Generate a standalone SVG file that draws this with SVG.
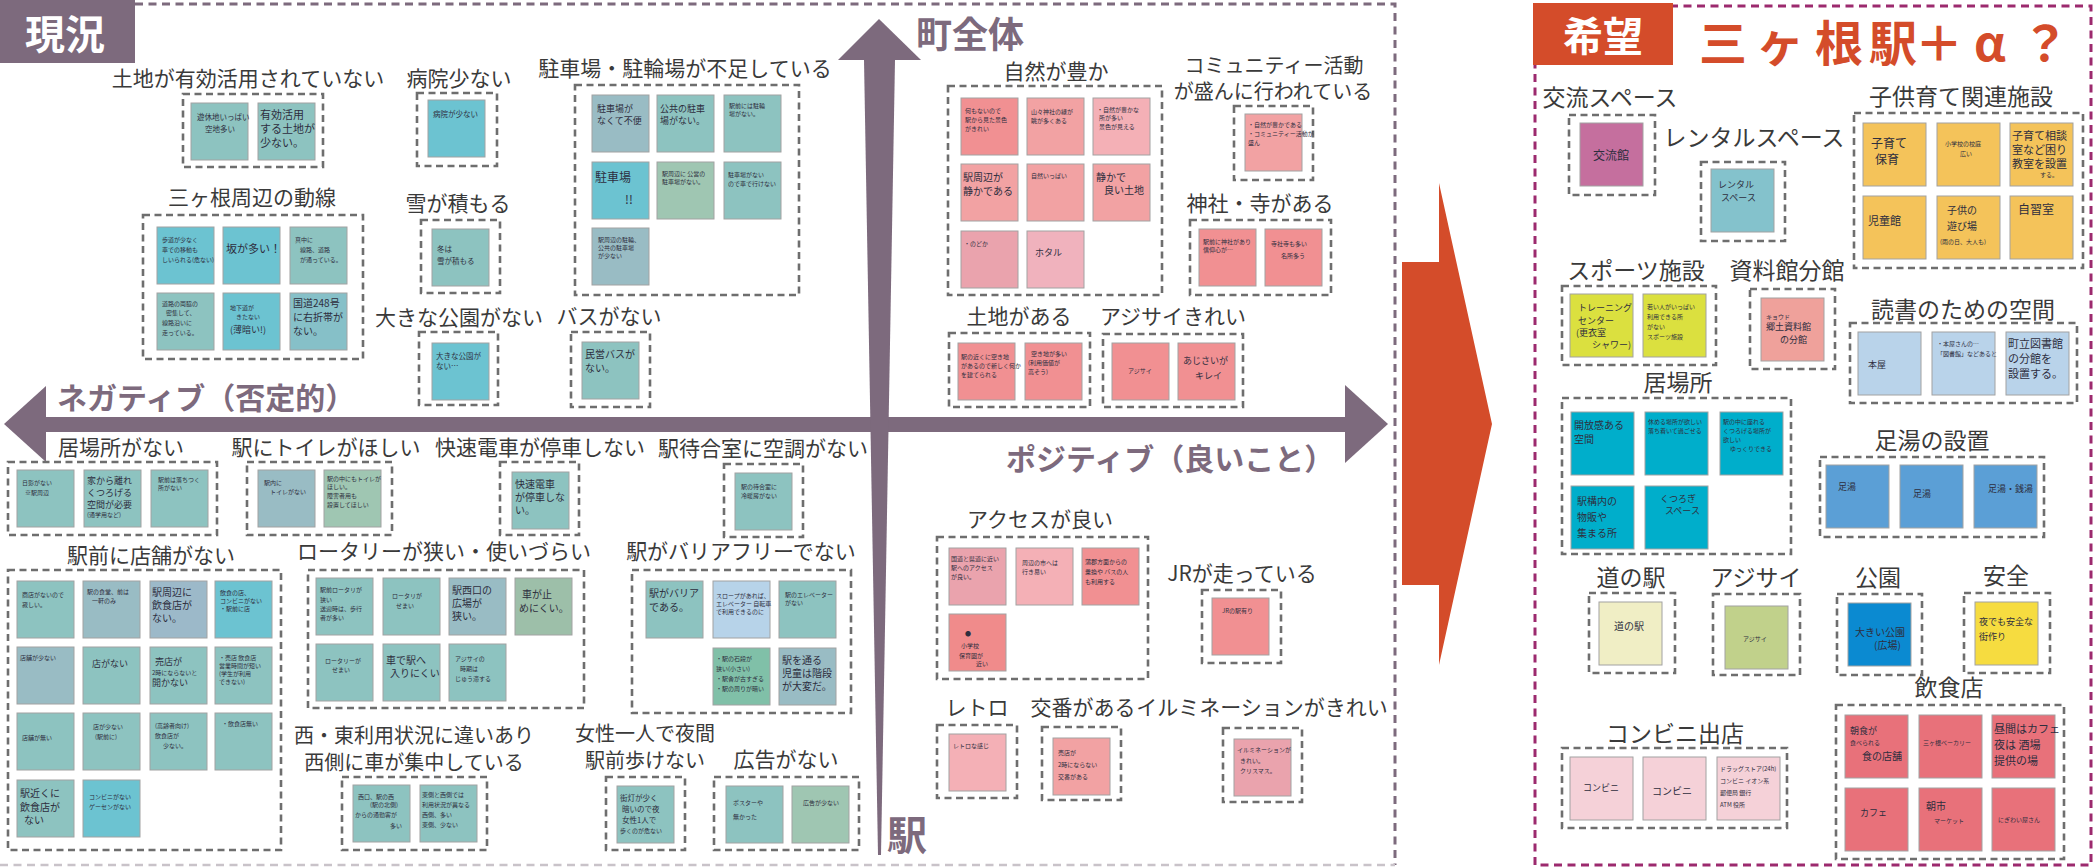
<svg xmlns="http://www.w3.org/2000/svg" width="2096" height="867" viewBox="0 0 2096 867">
<style>
.lb{font-family:"Noto Sans CJK JP","Noto Sans",sans-serif;font-size:21px;fill:#3a3a3a;text-anchor:middle}
.lr{font-size:23px}
.l2{font-size:20px}
.bx{fill:none;stroke:#6e6e6e;stroke-width:2.6;stroke-dasharray:7 4.5}
.n{stroke:#a2a2a2;stroke-width:1}
.hw{font-family:"Noto Sans CJK JP",sans-serif;font-size:7.5px;fill:#2e2e3e}
.h9{font-size:9px}.h10{font-size:10px}.h11{font-size:11px}.h12{font-size:12px}.h6{font-size:6px}
.ax{fill:#7d6a7d}
.tl{fill:#8dc3c0}.cy{fill:#6cc3d1}.bl{fill:#99bcc4}.gr{fill:#9fc6b2}.pk{fill:#f2a2a3}.pk2{fill:#eaa3ad}.pk3{fill:#f4b0b6}.rd{fill:#f19092}.lb2{fill:#b7d3e9}
.or{fill:#f4c35a}.mg{fill:#c56f9e}.yg{fill:#dbe03f}.sl{fill:#efa19b}.bb{fill:#b9d3ea}.cn{fill:#00aecb}.sb{fill:#5b9fd6}.cr{fill:#f0eec5}.ol{fill:#c1d18b}.db{fill:#0b8ad1}.yl{fill:#f6dc40}.rs{fill:#e8717a}.lp{fill:#f5d1d8}.rc{fill:#84c2cc}
</style>
<rect width="2096" height="867" fill="#ffffff"/>

<!-- left panel frame -->
<g id="panel-current">
<path d="M135 4 H1395 V865" fill="none" stroke="#7d6a7d" stroke-width="3" stroke-dasharray="8 5.5"/>
<path d="M0 865 H1395" fill="none" stroke="#c9c3c9" stroke-width="2.5" stroke-dasharray="8 5.5"/>
<rect x="0" y="0" width="135" height="63" fill="#7d6a7d"/>
<text x="25" y="49" font-family="Noto Sans CJK JP,sans-serif" font-size="40" font-weight="bold" fill="#ffffff">現況</text>
</g>

<!-- axes -->
<g id="connectors">
<rect class="ax" x="44" y="417" width="1303" height="15"/>
<polygon class="ax" points="4,424 46,386 46,462"/>
<polygon class="ax" points="1345,385 1388,424 1345,463"/>
<polygon class="ax" points="838,60 879,19 921,60"/>
<polygon class="ax" points="864,60 895,60 881,855 878,855"/>
<polygon fill="#d44c2a" points="1402,262 1439,262 1439,183 1492,424 1439,665 1439,585 1402,585"/>
</g>
<g id="axis-labels" font-family="Noto Sans CJK JP,sans-serif" font-weight="bold" fill="#7d6a7d">
<text x="916" y="48" font-size="36">町全体</text>
<text x="57" y="409" font-size="30">ネガティブ（否定的）</text>
<text x="1006" y="470" font-size="30">ポジティブ（良いこと）</text>
<text x="887" y="850" font-size="40">駅</text>
</g>

<!-- upper-left quadrant -->
<g id="g-land-unused">
<text class="lb" x="248" y="86">土地が有効活用されていない</text>
<rect class="bx" x="183" y="94" width="140" height="73"/>
<rect class="n tl" x="191" y="103" width="57" height="57"/><text class="hw" x="197" y="120">遊休地いっぱい<tspan x="205" dy="12">空地多い</tspan></text>
<rect class="n tl" x="258" y="103" width="57" height="57"/><text class="hw h11" x="260" y="119">有効活用<tspan x="260" dy="14">する土地が</tspan><tspan x="260" dy="14">少ない。</tspan></text>
</g>
<g id="g-hospital">
<text class="lb" x="459" y="86">病院少ない</text>
<rect class="bx" x="417" y="93" width="80" height="73"/>
<rect class="n cy" x="428" y="100" width="57" height="57"/><text class="hw" x="433" y="117">病院が少ない</text>
</g>
<g id="g-movement">
<text class="lb" x="252" y="205">三ヶ根周辺の動線</text>
<rect class="bx" x="143" y="215" width="220" height="144"/>
<rect class="n cy" x="157" y="227" width="57" height="57"/><text class="hw h6" x="162" y="242">歩道が少なく<tspan x="162" dy="10">車での移動も</tspan><tspan x="162" dy="10">しいられる(危ない)</tspan></text>
<rect class="n cy" x="223" y="227" width="57" height="57"/><text class="hw h11" x="226" y="253">坂が多い！</text>
<rect class="n tl" x="290" y="227" width="57" height="57"/><text class="hw h6" x="295" y="242">真中に<tspan x="300" dy="10">線路、道路</tspan><tspan x="300" dy="10">が通っている。</tspan></text>
<rect class="n tl" x="157" y="293" width="57" height="57"/><text class="hw h6" x="162" y="306">道路の両脇の<tspan x="166" dy="9">密集して、</tspan><tspan x="162" dy="10">線路沿いに</tspan><tspan x="162" dy="10">走っている。</tspan></text>
<rect class="n cy" x="223" y="293" width="57" height="57"/><text class="hw h6" x="230" y="310">地下道が<tspan x="236" dy="9">きたない</tspan><tspan x="230" class="h9" dy="14">(薄暗い!)</tspan></text>
<rect class="n" fill="#86c0c8" x="290" y="293" width="57" height="57"/><text class="hw h10" x="293" y="307">国道248号<tspan x="293" dy="14">に右折帯が</tspan><tspan x="293" dy="14">ない。</tspan></text>
</g>
<g id="g-snow">
<text class="lb" x="458" y="211">雪が積もる</text>
<rect class="bx" x="421" y="220" width="79" height="73"/>
<rect class="n tl" x="432" y="229" width="57" height="57"/><text class="hw" x="437" y="252" fill="#6a2a2a">冬は<tspan x="437" dy="12">雪が積もる</tspan></text>
</g>
<g id="g-park">
<text class="lb" x="459" y="325">大きな公園がない</text>
<rect class="bx" x="419" y="332" width="79" height="73"/>
<rect class="n cy" x="432" y="343" width="57" height="57"/><text class="hw" x="436" y="359">大きな公園が<tspan x="436" dy="10">ない…</tspan></text>
</g>
<g id="g-bus">
<text class="lb" x="609" y="324">バスがない</text>
<rect class="bx" x="571" y="332" width="79" height="75"/>
<rect class="n tl" x="582" y="342" width="57" height="57"/><text class="hw h10" x="585" y="358">民営バスが<tspan x="585" dy="14">ない。</tspan></text>
</g>
<g id="g-parking">
<text class="lb" x="685" y="76">駐車場・駐輪場が不足している</text>
<rect class="bx" x="575" y="85" width="224" height="210"/>
<rect class="n bl" x="592" y="95" width="57" height="57"/><text class="hw h9" x="597" y="112">駐車場が<tspan x="597" dy="12">なくて不便</tspan></text>
<rect class="n tl" x="657" y="95" width="57" height="57"/><text class="hw h9" x="660" y="112">公共の駐車<tspan x="660" dy="12">場がない。</tspan></text>
<rect class="n tl" x="724" y="95" width="57" height="57"/><text class="hw h6" x="729" y="108">駅前には駐輪<tspan x="729" dy="8">場がない。</tspan></text>
<rect class="n cy" x="592" y="162" width="57" height="57"/><text class="hw h12" x="595" y="182">駐車場<tspan x="625" dy="22">!!</tspan></text>
<rect class="n gr" x="657" y="162" width="57" height="57"/><text class="hw h6" x="662" y="176">駅周辺に 公営の<tspan x="662" dy="8">駐車場がない。</tspan></text>
<rect class="n tl" x="724" y="162" width="57" height="57"/><text class="hw h6" x="728" y="177">駐車場がない<tspan x="728" dy="9">ので車で行けない</tspan></text>
<rect class="n bl" x="592" y="228" width="57" height="57"/><text class="hw h6" x="598" y="242">駅周辺の駐輪、<tspan x="598" dy="8">公共の駐車場</tspan><tspan x="598" dy="8">が少ない</tspan></text>
</g>

<!-- upper-right quadrant -->
<g id="g-nature">
<text class="lb" x="1056" y="79">自然が豊か</text>
<rect class="bx" x="948" y="86" width="214" height="209"/>
<rect class="n rd" x="961" y="98" width="57" height="57"/><text class="hw h6" x="965" y="113">何もないので<tspan x="965" dy="9">駅から見た景色</tspan><tspan x="965" dy="9">がきれい</tspan></text>
<rect class="n pk" x="1027" y="98" width="57" height="57"/><text class="hw h6" x="1031" y="114">山々神社の緑が<tspan x="1031" dy="9">眺が多くある</tspan></text>
<rect class="n pk3" x="1093" y="98" width="57" height="57"/><text class="hw h6" x="1097" y="112" fill="#8a5a5a">・自然が豊かな<tspan x="1099" dy="8">所が多い</tspan><tspan x="1099" dy="9">景色が見える</tspan></text>
<rect class="n pk" x="961" y="164" width="57" height="57"/><text class="hw h10" x="963" y="181">駅周辺が<tspan x="963" dy="14">静かである</tspan></text>
<rect class="n pk" x="1027" y="164" width="57" height="57"/><text class="hw h6" x="1031" y="178">自然いっぱい</text>
<rect class="n pk" x="1093" y="164" width="57" height="57"/><text class="hw h10" x="1096" y="181">静かで<tspan x="1104" dy="13">良い土地</tspan></text>
<rect class="n pk2" x="961" y="231" width="57" height="57"/><text class="hw h6" x="964" y="246">・のどか</text>
<rect class="n" fill="#f0b2bd" x="1027" y="231" width="57" height="57"/><text class="hw h9" x="1035" y="256" fill="#8a6a6a">ホタル</text>
</g>
<g id="g-community">
<text class="lb l2" x="1274" y="73">コミュニティー活動</text>
<text class="lb l2" x="1273" y="99">が盛んに行われている</text>
<rect class="bx" x="1234" y="106" width="79" height="74"/>
<rect class="n pk" x="1245" y="114" width="57" height="57"/><text class="hw h6" x="1248" y="127">・自然が豊かである<tspan x="1248" dy="9">・コミュニティー活動が</tspan><tspan x="1248" dy="9">盛ん</tspan></text>
</g>
<g id="g-shrine">
<text class="lb" x="1260" y="211">神社・寺がある</text>
<rect class="bx" x="1190" y="220" width="141" height="75"/>
<rect class="n rd" x="1199" y="229" width="57" height="57"/><text class="hw h6" x="1203" y="244">駅前に神社があり<tspan x="1203" dy="8">信仰心が…</tspan></text>
<rect class="n rd" x="1265" y="229" width="57" height="57"/><text class="hw h6" x="1271" y="246" fill="#8a3a3a">寺社寺も多い<tspan x="1281" dy="12">名所多う</tspan></text>
</g>
<g id="g-land">
<text class="lb" x="1019" y="324">土地がある</text>
<rect class="bx" x="949" y="333" width="141" height="74"/>
<rect class="n rd" x="958" y="343" width="57" height="57"/><text class="hw h6" x="961" y="359">駅の近くに空き地<tspan x="961" dy="9">があるので新しく何か</tspan><tspan x="961" dy="9">を建てられる</tspan></text>
<rect class="n rd" x="1025" y="343" width="57" height="57"/><text class="hw h6" x="1031" y="356">空き地が多い<tspan x="1028" dy="9">(利用価値が</tspan><tspan x="1028" dy="9">高そう)</tspan></text>
</g>
<g id="g-hydrangea">
<text class="lb" x="1173" y="324">アジサイきれい</text>
<rect class="bx" x="1103" y="334" width="140" height="73"/>
<rect class="n rd" x="1112" y="343" width="57" height="57"/><text class="hw h6" x="1128" y="373">アジサイ</text>
<rect class="n rd" x="1178" y="343" width="57" height="57"/><text class="hw h9" x="1183" y="364" fill="#8a6a6a">あじさいが<tspan x="1195" dy="15">キレイ</tspan></text>
</g>

<!-- lower-left quadrant -->
<g id="g-no-place">
<text class="lb" x="121" y="455">居場所がない</text>
<rect class="bx" x="8" y="462" width="209" height="73"/>
<rect class="n tl" x="17" y="470" width="57" height="57"/><text class="hw h6" x="22" y="485">日影がない<tspan x="25" dy="10">※駅周辺</tspan></text>
<rect class="n tl" x="84" y="470" width="57" height="57"/><text class="hw h9" x="87" y="484">家から離れ<tspan x="87" dy="12">くつろげる</tspan><tspan x="87" dy="12">空間が必要</tspan><tspan x="87" class="h6" dy="9">(通学用など)</tspan></text>
<rect class="n tl" x="151" y="470" width="57" height="57"/><text class="hw h6" x="158" y="482">駅前は落ちつく<tspan x="158" dy="8">所がない</tspan></text>
</g>
<g id="g-toilet">
<text class="lb" x="326" y="455">駅にトイレがほしい</text>
<rect class="bx" x="247" y="462" width="145" height="73"/>
<rect class="n bl" x="258" y="470" width="57" height="57"/><text class="hw h6" x="264" y="485">駅内に<tspan x="270" dy="9">トイレがない</tspan></text>
<rect class="n gr" x="324" y="470" width="57" height="57"/><text class="hw h6" x="327" y="481">駅の中にもトイレが<tspan x="327" dy="8">ほしい。</tspan><tspan x="327" dy="9">障害者用も</tspan><tspan x="327" dy="9">設置してほしい</tspan></text>
</g>
<g id="g-rapid">
<text class="lb" x="540" y="455">快速電車が停車しない</text>
<rect class="bx" x="500" y="462" width="79" height="73"/>
<rect class="n tl" x="512" y="472" width="57" height="57"/><text class="hw h10" x="515" y="488">快速電車<tspan x="515" dy="13">が停車しな</tspan><tspan x="515" dy="13">い。</tspan></text>
</g>
<g id="g-aircon">
<text class="lb" x="763" y="456">駅待合室に空調がない</text>
<rect class="bx" x="724" y="464" width="79" height="73"/>
<rect class="n tl" x="735" y="473" width="57" height="57"/><text class="hw h6" x="741" y="489">駅の待合室に<tspan x="741" dy="9">冷暖房がない</tspan></text>
</g>
<g id="g-shops">
<text class="lb" x="151" y="563">駅前に店舗がない</text>
<rect class="bx" x="8" y="570" width="273" height="280"/>
<rect class="n tl" x="17" y="581" width="57" height="57"/><text class="hw h6" x="22" y="597" fill="#8a2a2a">商店がないので<tspan x="22" dy="10">寂しい。</tspan></text>
<rect class="n bl" x="83" y="581" width="57" height="57"/><text class="hw h6" x="87" y="594">駅の食堂、前は<tspan x="92" dy="9">一軒のみ</tspan></text>
<rect class="n" fill="#9cb9c9" x="150" y="581" width="57" height="57"/><text class="hw h10" x="152" y="596">駅周辺に<tspan x="152" dy="13">飲食店が</tspan><tspan x="152" dy="13">ない。</tspan></text>
<rect class="n cy" x="215" y="581" width="57" height="57"/><text class="hw h6" x="220" y="595">飲食の店、<tspan x="220" dy="8">コンビニがない</tspan><tspan x="220" dy="8">・駅前に店</tspan></text>
<rect class="n bl" x="17" y="647" width="57" height="57"/><text class="hw h6" x="20" y="660">店舗が少ない</text>
<rect class="n tl" x="83" y="647" width="57" height="57"/><text class="hw h9" x="92" y="667">店がない</text>
<rect class="n tl" x="150" y="647" width="57" height="57"/><text class="hw h9" x="155" y="665" fill="#6a2a2a">売店が<tspan x="152" class="h6" dy="10">2時にならないと</tspan><tspan x="152" dy="11">開かない</tspan></text>
<rect class="n tl" x="215" y="647" width="57" height="57"/><text class="hw h6" x="219" y="660">・売店 飲食店<tspan x="219" dy="8">営業時間が短い</tspan><tspan x="219" dy="8">(学生が利用</tspan><tspan x="219" dy="8">できない)</tspan></text>
<rect class="n tl" x="17" y="713" width="57" height="57"/><text class="hw h6" x="22" y="740" fill="#6a2a2a">店舗が無い</text>
<rect class="n tl" x="83" y="713" width="57" height="57"/><text class="hw h6" x="93" y="729">店が少ない<tspan x="95" dy="10">(駅前に)</tspan></text>
<rect class="n tl" x="150" y="713" width="57" height="57"/><text class="hw h6" x="155" y="728">(高齢者向け)<tspan x="155" dy="10">飲食店が</tspan><tspan x="163" dy="10">少ない。</tspan></text>
<rect class="n tl" x="215" y="713" width="57" height="57"/><text class="hw h6" x="222" y="726">・飲食店無い</text>
<rect class="n tl" x="17" y="780" width="57" height="57"/><text class="hw h10" x="20" y="797">駅近くに<tspan x="20" dy="14">飲食店が</tspan><tspan x="24" dy="13">ない</tspan></text>
<rect class="n cy" x="83" y="780" width="57" height="57"/><text class="hw h6" x="89" y="799">コンビニがない<tspan x="89" dy="10">ゲーセンがない</tspan></text>
</g>
<g id="g-rotary">
<text class="lb" x="444" y="559">ロータリーが狭い・使いづらい</text>
<rect class="bx" x="308" y="570" width="276" height="138"/>
<rect class="n tl" x="316" y="578" width="57" height="57"/><text class="hw h6" x="320" y="592">駅前ロータリが<tspan x="320" dy="10">狭い</tspan><tspan x="320" dy="9">送迎時は、歩行</tspan><tspan x="320" dy="9">者が多い</tspan></text>
<rect class="n tl" x="383" y="578" width="57" height="57"/><text class="hw h6" x="392" y="598">ロータリが<tspan x="396" dy="10">せまい</tspan></text>
<rect class="n bl" x="449" y="578" width="57" height="57"/><text class="hw h10" x="452" y="594">駅西口の<tspan x="452" dy="13">広場が</tspan><tspan x="452" dy="13">狭い。</tspan></text>
<rect class="n" fill="#9dbfa9" x="515" y="578" width="57" height="57"/><text class="hw h10" x="522" y="598">車が止<tspan x="519" dy="14">めにくい。</tspan></text>
<rect class="n tl" x="316" y="644" width="57" height="57"/><text class="hw h6" x="325" y="663">ロータリーが<tspan x="332" dy="9">せまい</tspan></text>
<rect class="n tl" x="383" y="644" width="57" height="57"/><text class="hw h10" x="386" y="664">車で駅へ<tspan x="390" dy="13">入りにくい</tspan></text>
<rect class="n tl" x="449" y="644" width="57" height="57"/><text class="hw h6" x="455" y="661">アジサイの<tspan x="460" dy="10">時期は</tspan><tspan x="455" dy="10">じゅう滞する</tspan></text>
</g>
<g id="g-west-east">
<text class="lb l2" x="414" y="743">西・東利用状況に違いあり</text>
<text class="lb l2" x="414" y="770">西側に車が集中している</text>
<rect class="bx" x="342" y="777" width="145" height="73"/>
<rect class="n tl" x="353" y="785" width="57" height="57"/><text class="hw h6" x="358" y="799">西口、駅の西<tspan x="370" dy="8">(駅の北側)</tspan><tspan x="355" dy="10">からの通勤客が</tspan><tspan x="390" dy="11">多い</tspan></text>
<rect class="n tl" x="420" y="785" width="57" height="57"/><text class="hw h6" x="422" y="797">東側と西側では<tspan x="422" dy="10">利用状況が異なる</tspan><tspan x="422" dy="10">西側、多い</tspan><tspan x="422" dy="10">東側、少ない</tspan></text>
</g>
<g id="g-barrier">
<text class="lb" x="741" y="559">駅がバリアフリーでない</text>
<rect class="bx" x="632" y="570" width="219" height="143"/>
<rect class="n tl" x="646" y="581" width="57" height="57"/><text class="hw h10" x="649" y="597">駅がバリア<tspan x="649" dy="14">である。</tspan></text>
<rect class="n lb2" x="713" y="581" width="57" height="57"/><text class="hw h6" x="716" y="598">スロープがあれば、<tspan x="716" dy="8">エレベーター 自転車</tspan><tspan x="716" dy="8">で利用できるのに</tspan></text>
<rect class="n tl" x="779" y="581" width="57" height="57"/><text class="hw h6" x="785" y="597">駅のエレベーター<tspan x="785" dy="8">がない</tspan></text>
<rect class="n" fill="#80c0a8" x="713" y="648" width="57" height="57"/><text class="hw h6" x="716" y="661">・駅の石段が<tspan x="716" dy="10">狭い(小さい)</tspan><tspan x="716" dy="10">・駅舎が古すぎる</tspan><tspan x="716" dy="10">・駅の周りが暗い</tspan></text>
<rect class="n bl" x="779" y="648" width="57" height="57"/><text class="hw h10" x="782" y="664">駅を通る<tspan x="782" dy="13">児童は階段</tspan><tspan x="782" dy="13">が大変だ。</tspan></text>
</g>
<g id="g-women">
<text class="lb l2" x="645" y="741">女性一人で夜間</text>
<text class="lb l2" x="645" y="768">駅前歩けない</text>
<rect class="bx" x="606" y="777" width="79" height="73"/>
<rect class="n tl" x="617" y="786" width="57" height="57"/><text class="hw" x="620" y="801">街灯が少く<tspan x="622" dy="11">暗いので夜</tspan><tspan x="622" dy="11">女性1人で</tspan><tspan x="620" class="h6" dy="10">歩くのが危ない</tspan></text>
</g>
<g id="g-ads">
<text class="lb" x="786" y="767">広告がない</text>
<rect class="bx" x="714" y="777" width="145" height="73"/>
<rect class="n tl" x="726" y="786" width="57" height="57"/><text class="hw h6" x="733" y="805">ポスターや<tspan x="733" dy="14">無かった</tspan></text>
<rect class="n gr" x="792" y="786" width="57" height="57"/><text class="hw h6" x="803" y="805">広告が少ない</text>
</g>

<!-- lower-right quadrant -->
<g id="g-access">
<text class="lb" x="1040" y="527">アクセスが良い</text>
<rect class="bx" x="937" y="537" width="211" height="142"/>
<rect class="n pk2" x="949" y="548" width="57" height="57"/><text class="hw h6" x="951" y="561" fill="#4a3a7a">国道と県道に近い<tspan x="951" dy="9">駅へのアクセス</tspan><tspan x="951" dy="9">が良い。</tspan></text>
<rect class="n pk3" x="1016" y="548" width="57" height="57"/><text class="hw h6" x="1022" y="565">周辺の市へは<tspan x="1022" dy="9">行き易い</tspan></text>
<rect class="n rd" x="1082" y="548" width="57" height="57"/><text class="hw h6" x="1085" y="564">蒲郡方面からの<tspan x="1085" dy="10">乗換や バスの人</tspan><tspan x="1085" dy="10">も利用する</tspan></text>
<rect class="n" fill="#f08b8b" x="949" y="614" width="57" height="57"/><text class="hw h6" x="965" y="636">●<tspan x="961" dy="12">小学校</tspan><tspan x="959" dy="10">保育園が</tspan><tspan x="976" dy="8">近い</tspan></text>
</g>
<g id="g-jr">
<text class="lb" x="1242" y="581">JRが走っている</text>
<rect class="bx" x="1202" y="590" width="79" height="73"/>
<rect class="n rd" x="1212" y="598" width="57" height="57"/><text class="hw h6" x="1222" y="613">JRの駅有り</text>
</g>
<g id="g-retro">
<text class="lb" x="977" y="715">レトロ</text>
<rect class="bx" x="937" y="725" width="80" height="73"/>
<rect class="n pk3" x="949" y="734" width="57" height="57"/><text class="hw h6" x="953" y="748">レトロな感じ</text>
</g>
<g id="g-police">
<text class="lb" x="1083" y="715">交番がある</text>
<rect class="bx" x="1042" y="727" width="79" height="73"/>
<rect class="n pk" x="1053" y="738" width="57" height="57"/><text class="hw h6" x="1058" y="755" fill="#b05050">売店が<tspan x="1058" dy="12">2時にならない</tspan><tspan x="1058" dy="12">交番がある</tspan></text>
</g>
<g id="g-illumination">
<text class="lb" x="1262" y="715">イルミネーションがきれい</text>
<rect class="bx" x="1223" y="728" width="79" height="74"/>
<rect class="n pk2" x="1234" y="739" width="57" height="57"/><text class="hw h6" x="1237" y="752">イルミネーションが<tspan x="1240" dy="11">きれい。</tspan><tspan x="1240" dy="10">クリスマス。</tspan></text>
</g>

<!-- right panel -->
<g id="panel-wish">
<rect x="1535" y="6" width="556" height="859" fill="none" stroke="#9c2a6e" stroke-width="3" stroke-dasharray="8 5.5"/>
<rect x="1533" y="3" width="140" height="62" fill="#d44c2a"/>
<text x="1563" y="51" font-family="Noto Sans CJK JP,sans-serif" font-size="40" font-weight="bold" fill="#ffffff">希望</text>
<text y="61" font-family="Noto Sans CJK JP,sans-serif" font-size="48" font-weight="bold" fill="#d44c2a" text-anchor="middle"><tspan x="1723">三</tspan><tspan x="1780">ヶ</tspan><tspan x="1839">根</tspan><tspan x="1893">駅</tspan><tspan x="1939">＋</tspan><tspan x="1990">α</tspan><tspan x="2045">？</tspan></text>
</g>
<g id="w-exchange">
<text class="lb lr" x="1610" y="106">交流スペース</text>
<rect class="bx" x="1569" y="115" width="86" height="80"/>
<rect class="n mg" x="1580" y="123" width="63" height="63"/><text class="hw h12" x="1593" y="160" fill="#7a2a5a">交流館</text>
</g>
<g id="w-rental">
<text class="lb lr" x="1754" y="146">レンタルスペース</text>
<rect class="bx" x="1701" y="162" width="84" height="79"/>
<rect class="n rc" x="1711" y="169" width="63" height="63"/><text class="hw h9" x="1718" y="188">レンタル<tspan x="1721" dy="13">スペース</tspan></text>
</g>
<g id="w-child">
<text class="lb lr" x="1961" y="105">子供育て関連施設</text>
<rect class="bx" x="1854" y="113" width="229" height="155"/>
<rect class="n or" x="1863" y="123" width="63" height="63"/><text class="hw h12" x="1871" y="148">子育て<tspan x="1875" dy="16">保育</tspan></text>
<rect class="n or" x="1937" y="123" width="63" height="63"/><text class="hw h6" x="1945" y="146">小学校の校庭<tspan x="1960" dy="10">広い</tspan></text>
<rect class="n or" x="2010" y="123" width="63" height="63"/><text class="hw h11" x="2012" y="140">子育て相談<tspan x="2012" dy="14">室など困り</tspan><tspan x="2012" dy="14">教室を設置</tspan><tspan x="2040" class="h6" dy="9">する。</tspan></text>
<rect class="n or" x="1863" y="196" width="63" height="63"/><text class="hw h11" x="1868" y="225">児童館</text>
<rect class="n or" x="1937" y="196" width="63" height="63"/><text class="hw h10" x="1947" y="214">子供の<tspan x="1947" dy="16">遊び場</tspan><tspan x="1940" class="h6" dy="14">(雨の日、大人も)</tspan></text>
<rect class="n or" x="2010" y="196" width="63" height="63"/><text class="hw h12" x="2018" y="214">自習室</text>
</g>
<g id="w-sports">
<text class="lb lr" x="1636" y="279">スポーツ施設</text>
<rect class="bx" x="1562" y="286" width="154" height="79"/>
<rect class="n yg" x="1570" y="294" width="63" height="63"/><text class="hw h9" x="1578" y="311">トレーニング<tspan x="1578" dy="13">センター</tspan><tspan x="1576" dy="12">(更衣室</tspan><tspan x="1592" dy="12">シャワー)</tspan></text>
<rect class="n yg" x="1643" y="294" width="63" height="63"/><text class="hw h6" x="1647" y="309" fill="#8a8a2a">若い人がいっぱい<tspan x="1647" dy="10">利用できる所</tspan><tspan x="1647" dy="10">がない</tspan><tspan x="1647" dy="10">スポーツ施設</tspan></text>
</g>
<g id="w-museum">
<text class="lb lr" x="1787" y="279">資料館分館</text>
<rect class="bx" x="1750" y="289" width="85" height="80"/>
<rect class="n sl" x="1761" y="298" width="63" height="63"/><text class="hw h6" x="1766" y="319">キョウド<tspan x="1766" class="h9" dy="11">郷土資料館</tspan><tspan x="1780" class="h9" dy="13">の分館</tspan></text>
</g>
<g id="w-reading">
<text class="lb lr" x="1963" y="318">読書のための空間</text>
<rect class="bx" x="1850" y="323" width="227" height="80"/>
<rect class="n bb" x="1858" y="332" width="63" height="63"/><text class="hw h9" x="1868" y="368">本屋</text>
<rect class="n bb" x="1932" y="332" width="63" height="63"/><text class="hw h6" x="1937" y="346">・本屋さんの…<tspan x="1937" dy="10">「図書館」などあると</tspan></text>
<rect class="n bb" x="2006" y="332" width="63" height="63"/><text class="hw h11" x="2008" y="348" fill="#2a3a7a">町立図書館<tspan x="2008" dy="15">の分館を</tspan><tspan x="2008" dy="15">設置する。</tspan></text>
</g>
<g id="w-ibasho">
<text class="lb lr" x="1678" y="391">居場所</text>
<rect class="bx" x="1562" y="398" width="229" height="156"/>
<rect class="n cn" x="1571" y="412" width="63" height="63"/><text class="hw h10" x="1574" y="429">開放感ある<tspan x="1574" dy="14">空間</tspan></text>
<rect class="n cn" x="1645" y="412" width="63" height="63"/><text class="hw h6" x="1648" y="424">休める場所が欲しい<tspan x="1648" dy="9">落ち着いて過ごせる</tspan></text>
<rect class="n cn" x="1720" y="412" width="63" height="63"/><text class="hw h6" x="1723" y="424">駅の中に座れる<tspan x="1723" dy="9">くつろげる場所が</tspan><tspan x="1723" dy="9">欲しい</tspan><tspan x="1730" dy="9">ゆっくりできる</tspan></text>
<rect class="n cn" x="1571" y="486" width="63" height="63"/><text class="hw h10" x="1577" y="505">駅構内の<tspan x="1577" dy="16">物販や</tspan><tspan x="1577" dy="16">集まる所</tspan></text>
<rect class="n cn" x="1645" y="486" width="63" height="63"/><text class="hw h9" x="1660" y="502">くつろぎ<tspan x="1665" dy="12">スペース</tspan></text>
</g>
<g id="w-footbath">
<text class="lb lr" x="1932" y="449">足湯の設置</text>
<rect class="bx" x="1820" y="457" width="224" height="80"/>
<rect class="n sb" x="1826" y="465" width="63" height="63"/><text class="hw h9" x="1838" y="490">足湯</text>
<rect class="n sb" x="1900" y="465" width="63" height="63"/><text class="hw h9" x="1913" y="497">足湯</text>
<rect class="n sb" x="1974" y="465" width="63" height="63"/><text class="hw h9" x="1988" y="492">足湯・銭湯</text>
</g>
<g id="w-michinoeki">
<text class="lb lr" x="1631" y="586">道の駅</text>
<rect class="bx" x="1589" y="593" width="86" height="80"/>
<rect class="n cr" x="1599" y="602" width="63" height="63"/><text class="hw h10" x="1614" y="630" fill="#9a8a5a">道の駅</text>
</g>
<g id="w-ajisai">
<text class="lb lr" x="1756" y="586">アジサイ</text>
<rect class="bx" x="1713" y="594" width="87" height="81"/>
<rect class="n ol" x="1725" y="606" width="63" height="63"/><text class="hw h6" x="1743" y="641">アジサイ</text>
</g>
<g id="w-park">
<text class="lb lr" x="1878" y="586">公園</text>
<rect class="bx" x="1837" y="594" width="85" height="81"/>
<rect class="n db" x="1848" y="603" width="63" height="63"/><text class="hw h10" x="1855" y="636">大きい公園<tspan x="1874" dy="13">(広場)</tspan></text>
</g>
<g id="w-safety">
<text class="lb lr" x="2006" y="584">安全</text>
<rect class="bx" x="1964" y="593" width="86" height="80"/>
<rect class="n yl" x="1975" y="602" width="63" height="63"/><text class="hw h9" x="1979" y="625">夜でも安全な<tspan x="1979" dy="15">街作り</tspan></text>
</g>
<g id="w-food">
<text class="lb lr" x="1949" y="696">飲食店</text>
<rect class="bx" x="1836" y="705" width="228" height="154"/>
<rect class="n rs" x="1845" y="715" width="63" height="63"/><text class="hw h9" x="1850" y="734">朝食が<tspan x="1850" class="h6" dy="11">食べられる</tspan><tspan x="1862" class="h10" dy="15">食の店舗</tspan></text>
<rect class="n rs" x="1919" y="715" width="63" height="63"/><text class="hw h6" x="1923" y="745">三ヶ根ベーカリー</text>
<rect class="n rs" x="1992" y="715" width="63" height="63"/><text class="hw h11" x="1994" y="733" fill="#6a1a3a">昼間はカフェ<tspan x="1994" dy="16">夜は 酒場</tspan><tspan x="1994" dy="16">提供の場</tspan></text>
<rect class="n rs" x="1845" y="788" width="63" height="63"/><text class="hw h9" x="1860" y="816">カフェ</text>
<rect class="n rs" x="1919" y="788" width="63" height="63"/><text class="hw h10" x="1926" y="810">朝市<tspan x="1934" class="h6" dy="13">マーケット</tspan></text>
<rect class="n rs" x="1992" y="788" width="63" height="63"/><text class="hw h6" x="1998" y="822">にぎわい屋さん</text>
</g>
<g id="w-konbini">
<text class="lb lr" x="1675" y="742">コンビニ出店</text>
<rect class="bx" x="1562" y="748" width="225" height="80"/>
<rect class="n lp" x="1570" y="757" width="63" height="63"/><text class="hw h9" x="1583" y="791" fill="#9a7a8a">コンビニ</text>
<rect class="n lp" x="1643" y="757" width="63" height="63"/><text class="hw h10" x="1652" y="795" fill="#9a7a8a">コンビニ</text>
<rect class="n lp" x="1717" y="757" width="63" height="63"/><text class="hw h6" x="1720" y="771">ドラッグストア(24h)<tspan x="1720" dy="12">コンビニ イオン系</tspan><tspan x="1720" dy="12">郵便局 銀行</tspan><tspan x="1720" dy="12">ATM 役所</tspan></text>
</g>
</svg>
